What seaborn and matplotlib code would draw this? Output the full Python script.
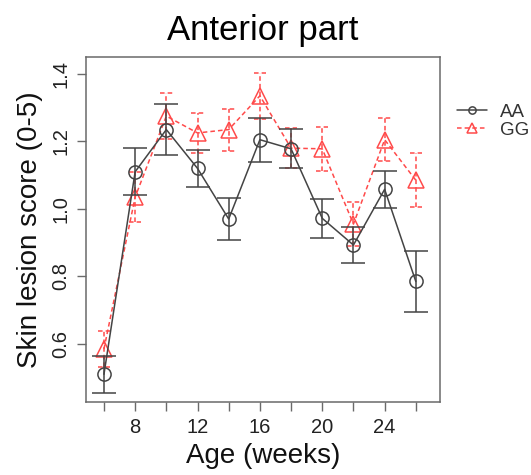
import numpy as np
import pandas as pd
import matplotlib
matplotlib.use("Agg")
import matplotlib.pyplot as plt
import seaborn as sns

# veriler (grafikten okunan ortalamalar ve hata çubukları)
weeks = [6, 8, 10, 12, 14, 16, 18, 20, 22, 24, 26]
aa_mean = [0.51, 1.11, 1.235, 1.12, 0.97, 1.205, 1.178, 0.972, 0.893, 1.058, 0.785]
aa_err = [0.055, 0.07, 0.075, 0.055, 0.062, 0.065, 0.058, 0.058, 0.052, 0.055, 0.09]
gg_mean = [0.585, 1.035, 1.275, 1.225, 1.235, 1.335, 1.18, 1.178, 0.955, 1.205, 1.085]
gg_err = [0.053, 0.075, 0.068, 0.06, 0.062, 0.068, 0.06, 0.065, 0.065, 0.063, 0.08]
xtick_pos = [6, 8, 10, 12, 14, 16, 18, 20, 22, 24, 26]
xtick_lab = ["", "8", "", "12", "", "16", "", "20", "", "24", ""]
ytick_pos = [0.6, 0.8, 1.0, 1.2, 1.4]
ytick_lab = ["0.6", "0.8", "1.0", "1.2", "1.4"]

sns.set_style("white")
plt.rcParams['font.family'] = ['Liberation Sans', 'DejaVu Sans']

AA_COL = "#444444"
GG_COL = "#ff4a4a"
BOX_COL = "#6a6a6a"

df_aa = pd.DataFrame({'week': weeks, 'score': aa_mean})
df_gg = pd.DataFrame({'week': weeks, 'score': gg_mean})

fig = plt.figure(figsize=(5.31, 4.75), dpi=100)
ax = fig.add_axes([0.162, 0.1537, 0.6666, 0.7263])

# GG (kırmızı, kesikli)
sns.lineplot(data=df_gg, x='week', y='score', ax=ax, color=GG_COL, label='GG',
             marker='^', markersize=12, markerfacecolor='none', markeredgecolor=GG_COL,
             markeredgewidth=1.1, linewidth=1.1, dashes=(3, 2))
ax.errorbar(weeks, gg_mean, yerr=gg_err, fmt='none', ecolor=GG_COL, capsize=0,
            elinewidth=1.1, linestyle='--')
for coll in ax.collections:
    coll.set_linestyle((0, (3, 2)))
gg_lo = [m - e for m, e in zip(gg_mean, gg_err)]
gg_hi = [m + e for m, e in zip(gg_mean, gg_err)]
wk = np.array(weeks)
ax.hlines(gg_lo, wk - 0.4, wk + 0.4, colors=GG_COL, linewidth=1.1, linestyles=(0, (3, 2)))
ax.hlines(gg_hi, wk - 0.4, wk + 0.4, colors=GG_COL, linewidth=1.1, linestyles=(0, (3, 2)))

# AA (gri, düz)
sns.lineplot(data=df_aa, x='week', y='score', ax=ax, color=AA_COL, label='AA',
             marker='o', markersize=9.5, markerfacecolor='none', markeredgecolor=AA_COL,
             markeredgewidth=1.1, linewidth=1.1)
ax.errorbar(weeks, aa_mean, yerr=aa_err, fmt='none', ecolor=AA_COL, capsize=8.5,
            elinewidth=1.1, capthick=1.1)

ax.set_xlim(4.85, 27.55)
ax.set_ylim(0.428, 1.45)
ax.set_xticks(xtick_pos)
ax.set_xticklabels(xtick_lab)
ax.set_yticks(ytick_pos)
ax.set_yticklabels(ytick_lab, rotation=90, va='center')
ax.tick_params(axis='both', direction='out', length=6.5, width=1, color=BOX_COL,
               labelsize=14.5, labelcolor='#222222', pad=5, left=True, bottom=True)
for sp in ax.spines.values():
    sp.set_color(BOX_COL)
    sp.set_linewidth(1.1)

ax.set_xlabel("Age (weeks)", fontsize=20, color='#111111', labelpad=4)
ax.set_ylabel("Skin lesion score (0-5)", fontsize=20, color='#111111', labelpad=6)
ax.set_title("Anterior part", fontsize=25, color='#000000', pad=12)

handles, labels = ax.get_legend_handles_labels()
order = [labels.index('AA'), labels.index('GG')]
ax.legend([handles[i] for i in order], [labels[i] for i in order],
          loc='center left', bbox_to_anchor=(0.86, 0.745), bbox_transform=fig.transFigure,
          frameon=False, fontsize=13.5, markerscale=0.55, handlelength=1.6,
          handletextpad=0.7, labelspacing=0.05, labelcolor='#333333', borderaxespad=0,
          borderpad=0)

fig.savefig("out.png", dpi=100)
